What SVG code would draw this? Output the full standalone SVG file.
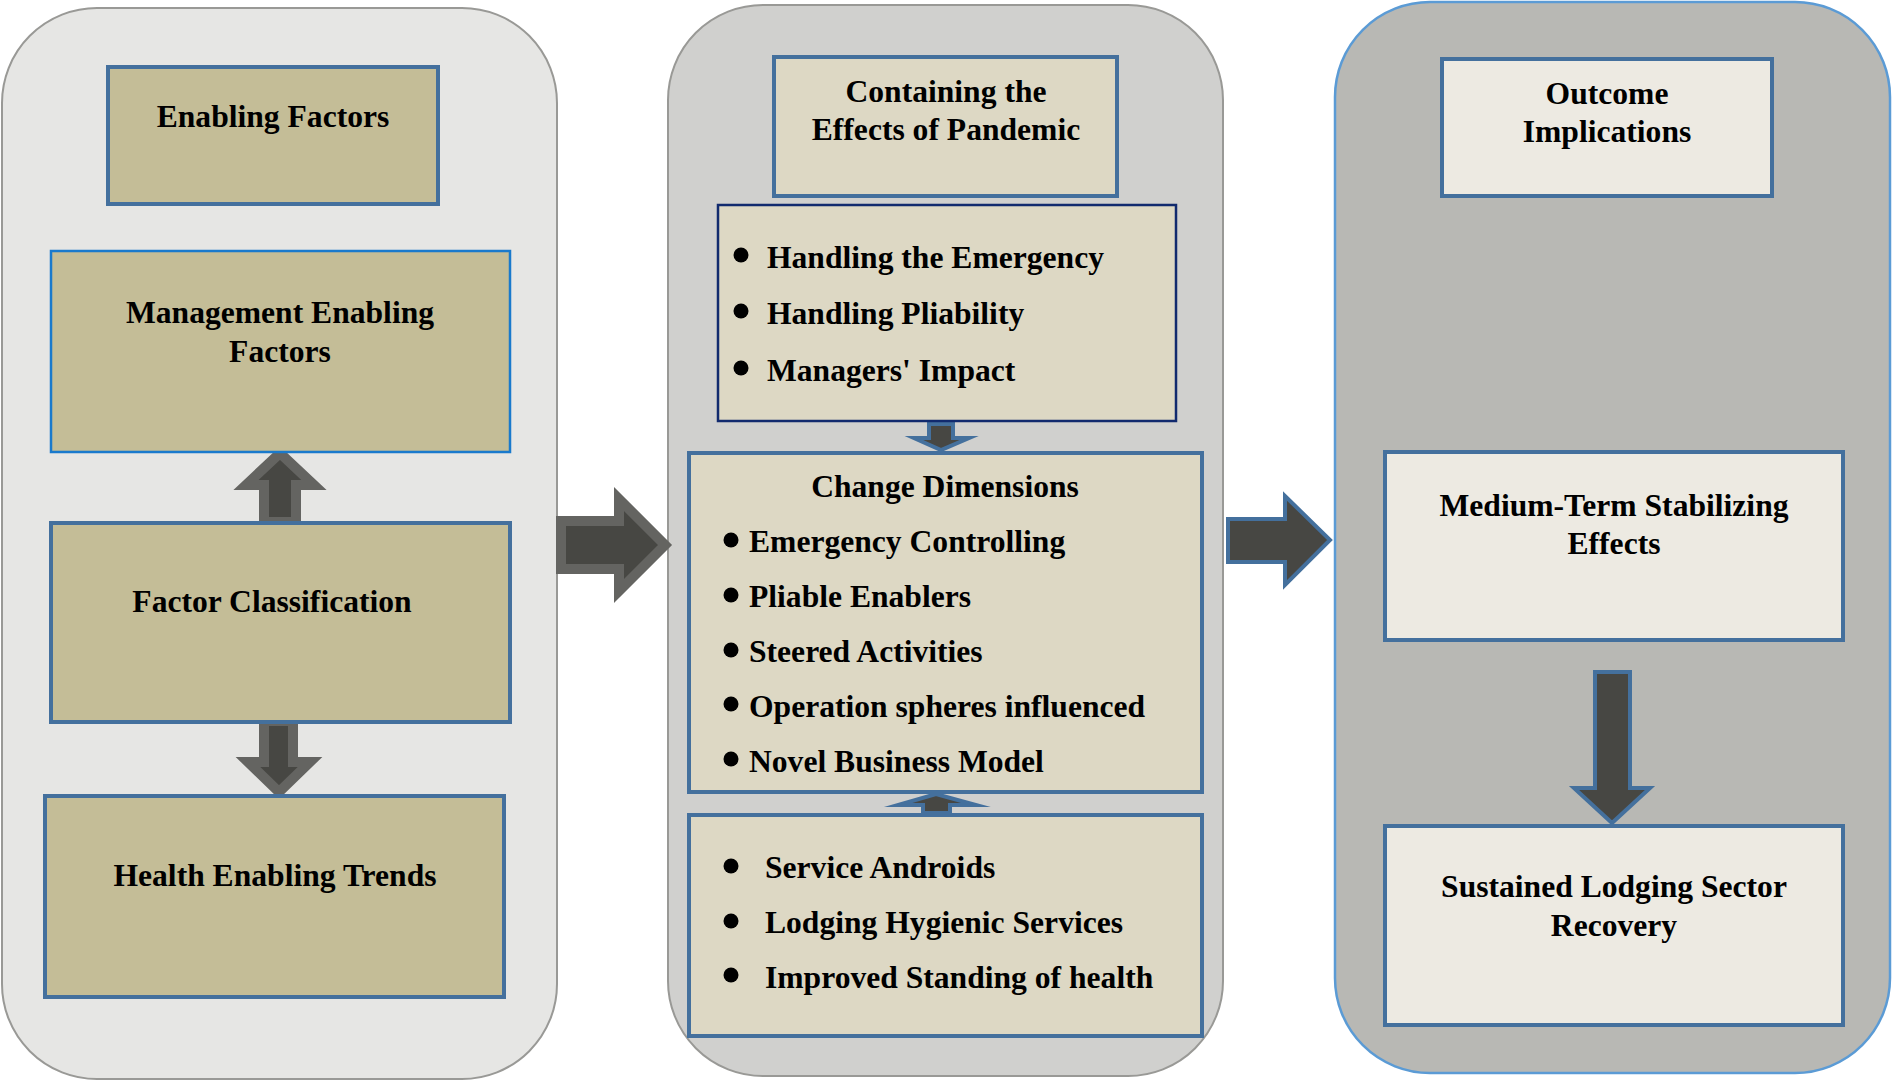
<svg xmlns="http://www.w3.org/2000/svg" width="1894" height="1082" viewBox="0 0 1894 1082">
<defs>
<style>
.t{font-family:"Liberation Serif","Times New Roman",serif;font-weight:bold;font-size:31.6px;fill:#000}
.c{text-anchor:middle}
.tan{fill:#c4bd97;stroke:#44709d;stroke-width:4}
.beige{fill:#ddd8c4;stroke:#44709d;stroke-width:4}
.light{fill:#edeae2;stroke:#44709d;stroke-width:4}
.garrow{fill:#474743;stroke:#646461;stroke-width:10;stroke-linejoin:miter;stroke-miterlimit:10}
.barrow{fill:#474743;stroke:#44709d;stroke-width:4;stroke-linejoin:miter;stroke-miterlimit:10}
</style>
</defs>
<rect width="1894" height="1082" fill="#ffffff"/>
<g id="panel-left">
<rect x="2" y="8" width="555" height="1071" rx="95" ry="95" fill="#e6e6e4" stroke="#999996" stroke-width="2"/>
</g>
<g id="panel-middle">
<rect x="668" y="5" width="555" height="1071" rx="95" ry="95" fill="#d0d0ce" stroke="#999996" stroke-width="2"/>
</g>
<g id="panel-right">
<rect x="1335" y="2" width="555" height="1071" rx="95" ry="95" fill="#b8b8b4" stroke="#5b9bd5" stroke-width="2.5"/>
</g>
<g id="connectors">
<polygon class="garrow" points="264,522 264,485 246,485 280,453 314,485 296,485 296,522"/>
<polygon class="garrow" points="264,721 264,762 248,762 279,792 310,762 293,762 293,721"/>
<polygon class="garrow" points="561,521 619,521 619,499 665,545 619,591 619,569 561,569"/>
<polygon class="barrow" points="1228,519 1285,519 1285,496 1330,540 1285,585 1285,562 1228,562"/>
<polygon class="barrow" points="1595,672 1630,672 1630,788 1650,788 1612,823 1574,788 1595,788"/>
<polygon class="barrow" points="929,424 953,424 953,438 969,438 941,450 914,438 929,438" stroke-width="3"/>
<polygon class="barrow" points="923,813 950,813 950,805 976,805 936,794 898,805 923,805" stroke-width="3"/>
</g>
<g id="node-enabling-factors">
<rect class="tan" x="108" y="67" width="330" height="137"/>
<text class="t c" x="273" y="127">Enabling Factors</text>
</g>
<g id="node-management">
<rect x="51" y="251" width="459" height="201" fill="#c4bd97" stroke="#1a7acc" stroke-width="2.5"/>
<text class="t c" x="280" y="323">Management Enabling</text>
<text class="t c" x="280" y="362">Factors</text>
</g>
<g id="node-factor-classification">
<rect class="tan" x="51" y="523" width="459" height="199"/>
<text class="t c" x="272" y="612">Factor Classification</text>
</g>
<g id="node-health">
<rect class="tan" x="45" y="796" width="459" height="201"/>
<text class="t c" x="275" y="886">Health Enabling Trends</text>
</g>
<g id="node-containing">
<rect class="beige" x="774" y="57" width="343" height="139"/>
<text class="t c" x="946" y="102">Containing the</text>
<text class="t c" x="946" y="140">Effects of Pandemic</text>
</g>
<g id="node-handling">
<rect x="718" y="205" width="458" height="216" fill="#ddd8c4" stroke="#112a6e" stroke-width="2.5"/>
<circle cx="741" cy="255" r="7.5"/>
<circle cx="741" cy="311" r="7.5"/>
<circle cx="741" cy="368" r="7.5"/>
<text class="t" x="767" y="268">Handling the Emergency</text>
<text class="t" x="767" y="324">Handling Pliability</text>
<text class="t" x="767" y="381">Managers' Impact</text>
</g>
<g id="node-change-dimensions">
<rect class="beige" x="689" y="453" width="513" height="339"/>
<text class="t c" x="945" y="497">Change Dimensions</text>
<circle cx="731" cy="540" r="7.5"/>
<circle cx="731" cy="595" r="7.5"/>
<circle cx="731" cy="650" r="7.5"/>
<circle cx="731" cy="704" r="7.5"/>
<circle cx="731" cy="759" r="7.5"/>
<text class="t" x="749" y="552">Emergency Controlling</text>
<text class="t" x="749" y="607">Pliable Enablers</text>
<text class="t" x="749" y="662">Steered Activities</text>
<text class="t" x="749" y="717">Operation spheres influenced</text>
<text class="t" x="749" y="772">Novel Business Model</text>
</g>
<g id="node-health-items">
<rect class="beige" x="689" y="815" width="513" height="221"/>
<circle cx="731" cy="866" r="7.5"/>
<circle cx="731" cy="921" r="7.5"/>
<circle cx="731" cy="975" r="7.5"/>
<text class="t" x="765" y="878">Service Androids</text>
<text class="t" x="765" y="933">Lodging Hygienic Services</text>
<text class="t" x="765" y="988">Improved Standing of health</text>
</g>
<g id="node-outcome">
<rect class="light" x="1442" y="59" width="330" height="137"/>
<text class="t c" x="1607" y="104">Outcome</text>
<text class="t c" x="1607" y="142">Implications</text>
</g>
<g id="node-medium-term">
<rect class="light" x="1385" y="452" width="458" height="188"/>
<text class="t c" x="1614" y="516">Medium-Term Stabilizing</text>
<text class="t c" x="1614" y="554">Effects</text>
</g>
<g id="node-sustained">
<rect class="light" x="1385" y="826" width="458" height="199"/>
<text class="t c" x="1614" y="897">Sustained Lodging Sector</text>
<text class="t c" x="1614" y="936">Recovery</text>
</g>
</svg>
